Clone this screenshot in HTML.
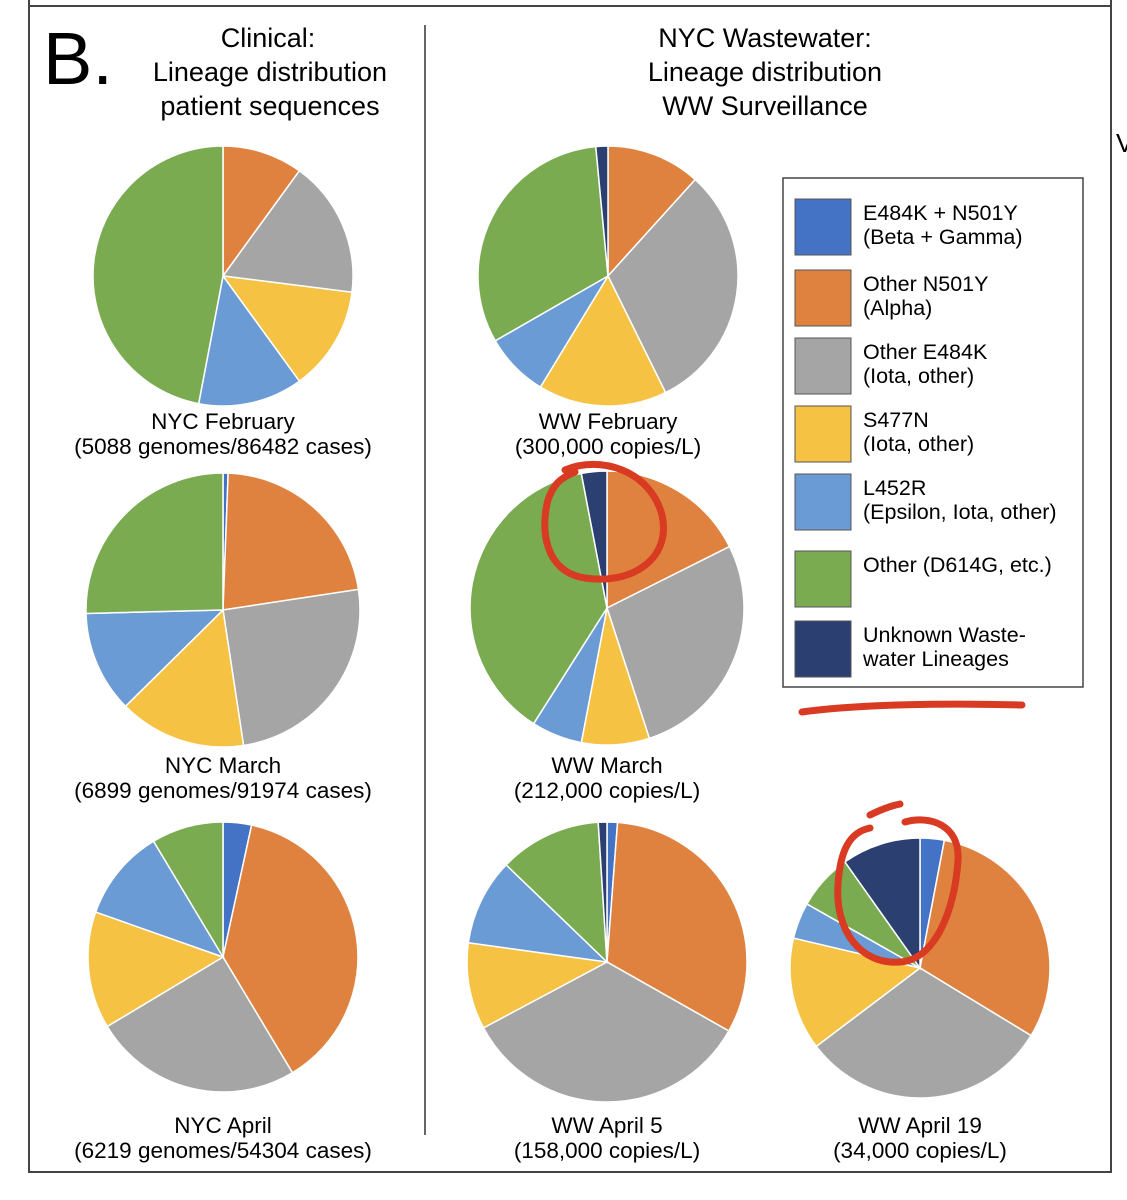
<!DOCTYPE html>
<html><head><meta charset="utf-8"><style>
body{margin:0;background:#fff;}
#wrap{position:relative;width:1127px;height:1200px;overflow:hidden;font-family:"Liberation Sans",sans-serif;color:#1e1e1e;}
</style></head><body>
<div id="wrap">
<svg id="svg" width="1127" height="1200" viewBox="0 0 1127 1200" xmlns="http://www.w3.org/2000/svg">
<g stroke="#444" stroke-width="2" fill="none">
<line x1="28" y1="6" x2="1112" y2="6"/>
<line x1="29" y1="0" x2="29" y2="1173"/>
<line x1="28" y1="1172" x2="1112" y2="1172"/>
<line x1="1111" y1="0" x2="1111" y2="1173"/>
<line x1="425" y1="25" x2="425" y2="1135" stroke="#666"/>
</g>
<text x="43" y="84" font-size="74">B.</text>
<text x="1116" y="152" font-size="26">V</text>
<g font-size="27" text-anchor="middle">
<text x="268" y="47">Clinical:</text><text x="270" y="81">Lineage distribution</text><text x="270" y="115">patient sequences</text></g>
<g font-size="27" text-anchor="middle">
<text x="765" y="47">NYC Wastewater:</text><text x="765" y="81">Lineage distribution</text><text x="765" y="115">WW Surveillance</text></g>
<g id="pies"></g>
<g id="legend"></g>
<g stroke="#d83a22" stroke-width="7" fill="none" stroke-linecap="round">
<path d="M565 470 C600 455 650 470 662 515 C672 560 630 585 585 578 C545 572 540 530 548 500 C553 485 560 478 575 472"/>
<path d="M802 712 C860 704 950 703 1022 705"/>
<path d="M905 822 C930 815 960 825 958 860 C955 910 935 960 900 962 C860 965 835 930 838 885 C840 850 850 832 870 828"/>
<path d="M870 815 C880 810 890 806 900 804"/>
</g>
</svg>
</div>
<script>
const colors = ["#4472c4","#e0823f","#a5a5a5","#f5c243","#6b9bd4","#7aab51","#2b3f70"];
const legendLabels = [["E484K + N501Y","(Beta + Gamma)"],["Other N501Y","(Alpha)"],["Other E484K","(Iota, other)"],["S477N","(Iota, other)"],["L452R","(Epsilon, Iota, other)"],["Other (D614G, etc.)",""],["Unknown Waste-","water Lineages"]];
// shares in %: beta, alpha, e484k, s477n, l452r, other, unknown
const nycFeb = [0, 10, 17, 13, 13, 47, 0];
const wwFeb = [0, 11.7, 31, 16, 8, 31.8, 1.5];
const nycMar = [0.6, 22, 25, 15, 12, 25.4, 0];
const wwMar = [0, 17.6, 27.4, 8, 6, 38, 3];
const nycApr = [3.4, 38, 25, 14, 11, 8.6, 0];
const wwApr5 = [1.2, 32, 34, 10, 10, 11.8, 1];
const wwApr19 = [3, 30.7, 31, 14, 4.5, 7, 9.8];
const titles = [["NYC February","(5088 genomes/86482 cases)"],["WW February","(300,000 copies/L)"],["NYC March","(6899 genomes/91974 cases)"],["WW March","(212,000 copies/L)"],["NYC April","(6219 genomes/54304 cases)"],["WW April 5","(158,000 copies/L)"],["WW April 19","(34,000 copies/L)"]];
const allData = [nycFeb, wwFeb, nycMar, wwMar, nycApr, wwApr5, wwApr19];
const layout = [[223,276,130,429],[608,276,130,429],[223,610,137,773],[607,608,137,773],[223,957,135,1133],[607,962,140,1133],[920,968,130,1133]];
const NS="http://www.w3.org/2000/svg";
const order=[0,1,2,3,4,5,6];
function pt(cx,cy,r,f){const a=f*2*Math.PI;return [cx+r*Math.sin(a),cy-r*Math.cos(a)];}
const pies=document.getElementById('pies');
allData.forEach((d,i)=>{
  const [cx,cy,r,ly]=layout[i];
  const g=document.createElementNS(NS,'g');
  
  
  const tot=d.reduce((a,b)=>a+b,0);
  let acc=0;
  order.forEach(k=>{
    const v=d[k]; if(v<=0) return;
    const f0=acc/tot, f1=(acc+v)/tot; acc+=v;
    const [x0,y0]=pt(cx,cy,r,f0),[x1,y1]=pt(cx,cy,r,f1);
    const p=document.createElementNS(NS,'path');
    p.setAttribute('d',`M${cx},${cy}L${x0},${y0}A${r},${r} 0 ${(f1-f0)>0.5?1:0} 1 ${x1},${y1}Z`);
    p.setAttribute('fill',colors[k]);p.setAttribute('stroke','#fff');p.setAttribute('stroke-width','1.5');
    
    
    g.appendChild(p);
  });
  [0,1].forEach(j=>{
    const t=document.createElementNS(NS,'text');
    t.setAttribute('x',cx);t.setAttribute('y',ly+j*25);t.setAttribute('text-anchor','middle');t.setAttribute('font-size','22.5');
    
    
    t.textContent=titles[i][j];g.appendChild(t);
  });
  pies.appendChild(g);
});
const lg=document.getElementById('legend');
const box=document.createElementNS(NS,'rect');
box.setAttribute('x',783);box.setAttribute('y',178);box.setAttribute('width',300);box.setAttribute('height',509);
box.setAttribute('fill','#fff');box.setAttribute('stroke','#444');box.setAttribute('stroke-width','1.5');


lg.appendChild(box);
const rowY=[199,270,338,406,474,551,621];
legendLabels.forEach((l,k)=>{
  const y=rowY[k];
  const s=document.createElementNS(NS,'rect');
  s.setAttribute('x',795);s.setAttribute('y',y);s.setAttribute('width',56);s.setAttribute('height',56);
  s.setAttribute('fill',colors[k]);s.setAttribute('stroke','#555');s.setAttribute('stroke-width','1');
  
  
  lg.appendChild(s);
  l.forEach((txt,j)=>{ if(!txt) return;
    const t=document.createElementNS(NS,'text');
    t.setAttribute('x',863);t.setAttribute('y',y+21+j*24);t.setAttribute('font-size','21.5');
    
    
    t.textContent=txt;lg.appendChild(t);
  });
});
</script>
</body></html>
